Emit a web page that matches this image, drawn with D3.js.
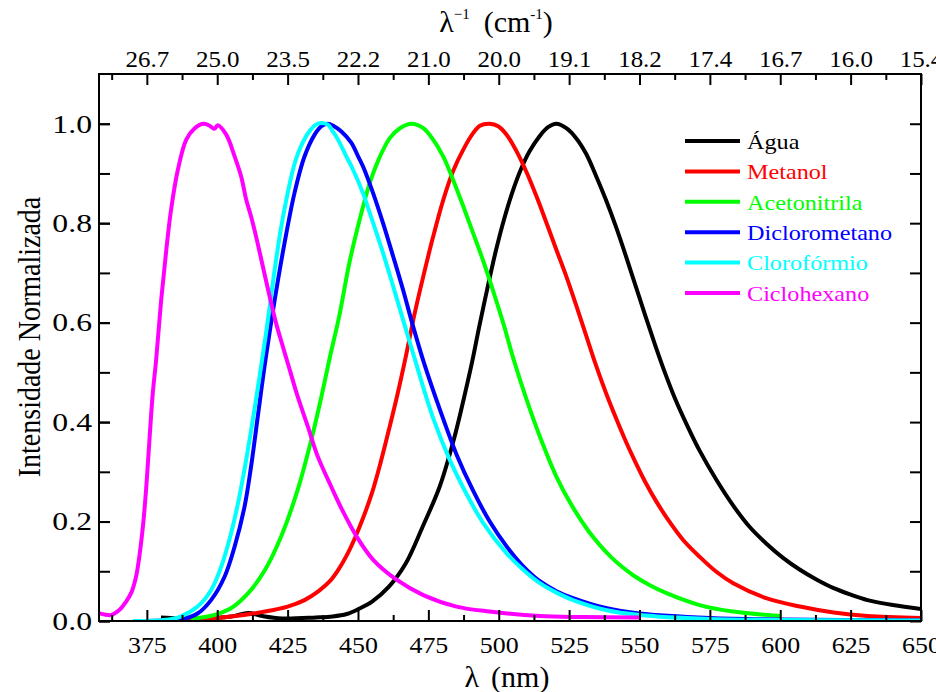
<!DOCTYPE html>
<html>
<head>
<meta charset="utf-8">
<script src="https://cdn.jsdelivr.net/npm/d3@7"></script>
<style>
body{margin:0;background:#fff;}
text{font-family:"Liberation Serif","Times New Roman",serif;}
</style>
</head>
<body>
<svg id="chart" width="936" height="692"></svg>
<script>
// spectra: [wavelength nm, normalized intensity]
var agua = [[380,0.007],[393,0.005],[405,0.009],[411,0.016],[416,0.010],[423,0.005],[435,0.007],[441,0.009],[446,0.014],[450.5,0.025],[455,0.039],[461,0.069],[467,0.116],[473,0.19],[479,0.27],[484,0.364],[487.5,0.445],[490.5,0.52],[493,0.59],[496,0.67],[499,0.745],[502,0.81],[505,0.865],[508,0.91],[511,0.945],[514.5,0.975],[517.5,0.993],[520.5,1.0],[524,0.991],[527.5,0.971],[531,0.94],[534.5,0.896],[538,0.848],[541.5,0.795],[545,0.737],[548.5,0.676],[552,0.615],[555.5,0.556],[559,0.5],[562.5,0.449],[566.7,0.396],[571.4,0.342],[577.3,0.284],[583.3,0.232],[589,0.19],[595,0.156],[601,0.127],[607,0.103],[613,0.083],[619,0.066],[625,0.053],[631,0.042],[640,0.032],[650,0.024]];
var metanol = [[380,0.001],[393,0.003],[405,0.009],[417,0.019],[425,0.029],[431,0.042],[436,0.06],[440,0.08],[443,0.103],[446,0.132],[449,0.168],[452,0.21],[455,0.258],[458,0.318],[461,0.385],[464,0.455],[467,0.532],[470,0.615],[473.2,0.693],[476.7,0.773],[480.3,0.847],[483.8,0.905],[487.4,0.948],[490.9,0.981],[493.3,0.996],[496.8,1.0],[499.8,0.995],[502.8,0.978],[506.3,0.945],[510,0.901],[513.4,0.854],[517,0.8],[520.5,0.746],[524,0.693],[527.5,0.635],[531,0.575],[534.5,0.515],[538,0.46],[541.5,0.41],[545,0.363],[548.5,0.32],[552,0.28],[556,0.24],[560,0.205],[565.5,0.163],[571.4,0.129],[577.3,0.099],[583.3,0.076],[595,0.046],[607,0.029],[619,0.017],[631,0.01],[650,0.006]];
var acetonitrila = [[390.5,0.004],[399,0.012],[405,0.026],[411,0.056],[417,0.103],[422.7,0.17],[428.6,0.264],[433.4,0.364],[437,0.451],[440,0.53],[443.3,0.612],[447,0.722],[450.5,0.805],[454.2,0.881],[457.8,0.934],[461.3,0.971],[464.9,0.991],[469,1.0],[473.2,0.991],[476.7,0.968],[480.3,0.934],[483.8,0.887],[487.4,0.834],[490.9,0.78],[494.5,0.724],[498,0.664],[501.6,0.599],[505.5,0.522],[509.9,0.445],[514.6,0.371],[520.5,0.29],[526.4,0.228],[532,0.18],[536,0.152],[540,0.128],[544,0.108],[548,0.091],[553.7,0.072],[559.6,0.056],[571.4,0.032],[583.3,0.019],[600,0.01]];
var diclorometano = [[375,0.0],[381,0.001],[387,0.003],[393,0.015],[397.8,0.042],[402.6,0.089],[406.2,0.15],[409.7,0.23],[412,0.31],[414.4,0.411],[417,0.52],[420.4,0.645],[423.9,0.76],[427.5,0.862],[431,0.934],[434.6,0.978],[437,0.995],[439.3,1.0],[441.5,0.995],[444,0.985],[447.6,0.962],[450,0.935],[451.8,0.914],[455.4,0.86],[458.9,0.8],[462.5,0.733],[466,0.666],[469.6,0.592],[473.5,0.518],[479.1,0.425],[485,0.335],[490.9,0.262],[496.8,0.2],[502.8,0.15],[508.7,0.11],[514.6,0.08],[520.5,0.06],[526.4,0.046],[538,0.026],[550,0.015],[575,0.006],[600,0.003],[650,0.001]];
var cloroformio = [[370,0.0],[381,0.002],[387,0.009],[393,0.029],[397.8,0.062],[401.4,0.109],[404.9,0.176],[407.5,0.24],[410,0.315],[412.5,0.4],[415,0.49],[417.5,0.585],[420,0.69],[422.5,0.785],[425,0.86],[427.5,0.92],[430,0.958],[432.8,0.985],[435.7,1.0],[439.3,0.998],[441,0.985],[442.9,0.968],[445.8,0.935],[448.3,0.907],[451.8,0.86],[455.4,0.8],[458.9,0.74],[462.5,0.673],[466,0.606],[470,0.53],[476.7,0.408],[482.6,0.324],[488.6,0.255],[494.5,0.197],[502.8,0.136],[508.7,0.103],[514.6,0.076],[520.5,0.057],[526.4,0.042],[538,0.022],[550,0.012],[575,0.004],[600,0.002],[650,0.001]];
var ciclohexano = [[358,0.016],[360,0.013],[362.3,0.012],[364,0.017],[365.9,0.026],[367.5,0.038],[369.4,0.056],[371,0.085],[371.8,0.109],[373.6,0.19],[374.8,0.27],[376,0.371],[377.1,0.458],[378.3,0.525],[380.1,0.646],[381.9,0.746],[383.6,0.827],[386,0.907],[389,0.968],[392,0.991],[394.9,1.0],[397,0.997],[399,0.99],[400.2,0.997],[403.2,0.978],[406.2,0.934],[408.5,0.894],[410.3,0.847],[412,0.814],[413.8,0.773],[416.2,0.713],[418.6,0.653],[420.9,0.599],[423.3,0.552],[425.5,0.51],[428.6,0.451],[432.2,0.391],[435.7,0.331],[440.5,0.27],[444.5,0.222],[449.5,0.17],[455.4,0.123],[463.7,0.083],[473.2,0.052],[485,0.029],[496.8,0.019],[514.6,0.01],[530,0.008],[550,0.007]];

var names = ["Água","Metanol","Acetonitrila","Diclorometano","Clorofórmio","Ciclohexano"];
var colors = ["#000000","#ff0000","#00ff00","#0000ff","#00ffff","#ff00ff"];
var spectra = [agua, metanol, acetonitrila, diclorometano, cloroformio, ciclohexano];

var xMajor = [375,400,425,450,475,500,525,550,575,600,625,650];
var xMinor = [362.5,387.5,412.5,437.5,462.5,487.5,512.5,537.5,562.5,587.5,612.5,637.5];
var topLabels = ["26.7","25.0","23.5","22.2","21.0","20.0","19.1","18.2","17.4","16.7","16.0","15.4"];
var yMajor = [0,0.2,0.4,0.6,0.8,1.0];
var yAll = [0,0.1,0.2,0.3,0.4,0.5,0.6,0.7,0.8,0.9,1.0];

var serif = '"Liberation Serif","Times New Roman",serif';
var L = 99, R = 921, T = 74, B = 621;
var svg = d3.select("#chart");

var x = d3.scaleLinear().domain([358, 650]).range([L, R]);
var y = d3.scaleLinear().domain([0, 1.1]).range([B, T]);

svg.append("clipPath").attr("id","clip").append("rect")
  .attr("x", L).attr("y", T).attr("width", R - L).attr("height", B - T);

// curves
var line = d3.line().x(function(d){ return x(d[0]); }).y(function(d){ return y(d[1]); })
  .curve(d3.curveCatmullRom.alpha(0.5));
svg.append("g").attr("clip-path","url(#clip)").selectAll("path")
  .data(spectra).enter().append("path")
  .attr("d", line)
  .attr("fill","none")
  .attr("stroke", function(d,i){ return colors[i]; })
  .attr("stroke-width", 4)
  .attr("stroke-linejoin","round");

function tidy(g){
  g.select(".domain").remove();
  g.selectAll("line").attr("stroke","#000").attr("stroke-width",2);
  g.selectAll("text").style("font-family", serif).attr("fill","#000");
}

// bottom
svg.append("g").attr("transform","translate(0,"+B+")")
  .call(d3.axisBottom(x).tickValues(xMinor).tickSize(-6).tickFormat(""))
  .call(tidy);
var bx = svg.append("g").attr("transform","translate(0,"+B+")")
  .call(d3.axisBottom(x).tickValues(xMajor).tickSize(-11).tickPadding(15).tickFormat(d3.format("d")))
  .call(tidy);
bx.selectAll("text").attr("font-size",24).attr("transform","scale(1.08,1)");

// top
svg.append("g").attr("transform","translate(0,"+T+")")
  .call(d3.axisTop(x).tickValues(xMinor).tickSize(-6).tickFormat(""))
  .call(tidy);
var tx = svg.append("g").attr("transform","translate(0,"+T+")")
  .call(d3.axisTop(x).tickValues(xMajor).tickSize(-11).tickPadding(7)
    .tickFormat(function(d,i){ return topLabels[i]; }))
  .call(tidy);
tx.selectAll("text").attr("font-size",24).attr("transform","scale(1.04,1)");

// left
svg.append("g").attr("transform","translate("+L+",0)")
  .call(d3.axisLeft(y).tickValues(yAll).tickSize(-11).tickFormat(""))
  .call(tidy);
var ly = svg.append("g").attr("transform","translate("+L+",0)")
  .call(d3.axisLeft(y).tickValues(yMajor).tickSize(-11).tickFormat(d3.format(".1f")))
  .call(tidy);
ly.selectAll("text").attr("font-size",26)
  .attr("x", -7/1.22).attr("transform","scale(1.22,1)");

// right
svg.append("g").attr("transform","translate("+R+",0)")
  .call(d3.axisRight(y).tickValues(yAll).tickSize(-11).tickFormat(""))
  .call(tidy);

// frame
svg.append("rect").attr("x",L).attr("y",T).attr("width",R-L).attr("height",B-T)
  .attr("fill","none").attr("stroke","#000").attr("stroke-width",2);

// axis titles
svg.append("text").attr("transform","translate(40,337) scale(1.15,1) rotate(-90)")
  .attr("text-anchor","middle").attr("font-size",28).style("font-family", serif)
  .text("Intensidade Normalizada");

var xt = svg.append("text").attr("x",507).attr("y",687).attr("text-anchor","middle")
  .attr("font-size",30).style("font-family", serif);
xt.append("tspan").text("λ");
xt.append("tspan").attr("dx",12).text("(nm)");

var tt = svg.append("text").attr("x",496).attr("y",32).attr("text-anchor","middle")
  .attr("font-size",30).style("font-family", serif);
tt.append("tspan").text("λ");
tt.append("tspan").attr("font-size",15).attr("dy",-13).text("−1");
tt.append("tspan").attr("dy",13).attr("dx",14).text("(cm");
tt.append("tspan").attr("font-size",15).attr("dy",-13).text("-1");
tt.append("tspan").attr("dy",13).text(")");

// legend
var lg = svg.append("g").selectAll("g").data(names).enter().append("g")
  .attr("transform", function(d,i){ return "translate(685," + (141 + i*30.4) + ")"; });
lg.append("line").attr("x1",0).attr("x2",55).attr("y1",0).attr("y2",0)
  .attr("stroke", function(d,i){ return colors[i]; }).attr("stroke-width",4);
lg.append("text").attr("transform","translate(62,0) scale(1.1,1)").attr("dy","0.35em")
  .attr("font-size",22).style("font-family", serif)
  .attr("fill", function(d,i){ return colors[i]; })
  .text(function(d){ return d; });
</script>
</body>
</html>
